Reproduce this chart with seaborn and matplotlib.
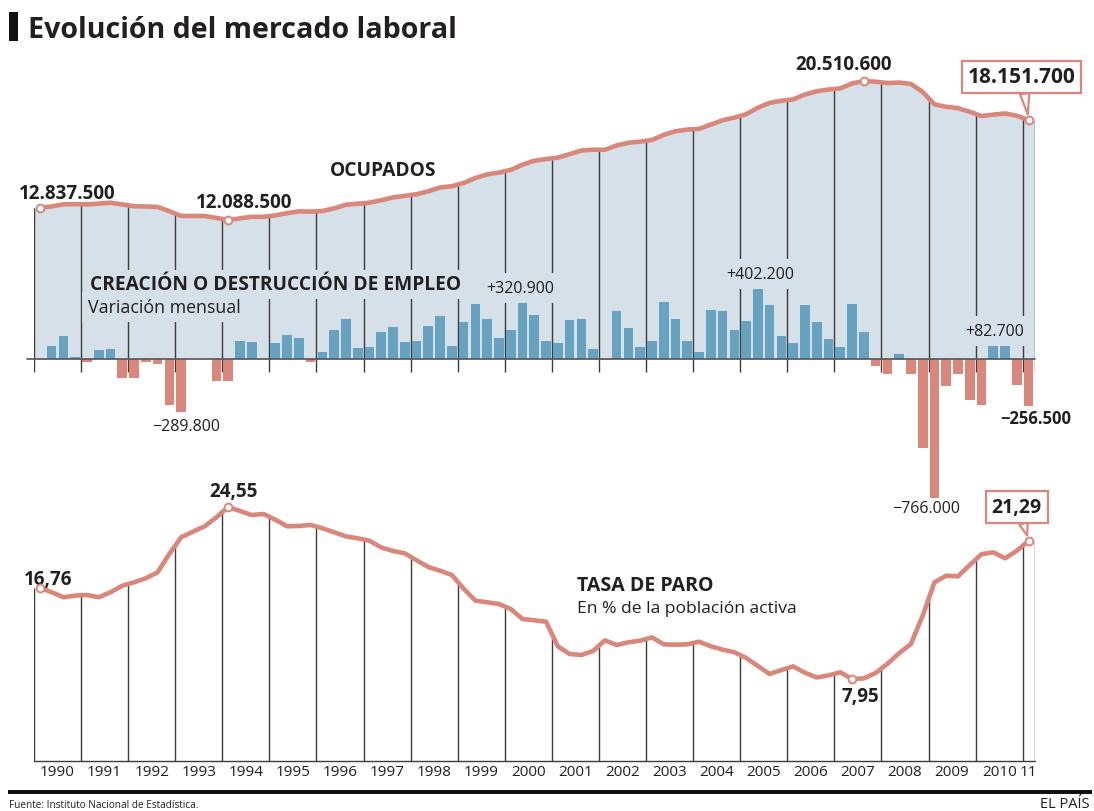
import numpy as np
import pandas as pd
import matplotlib
matplotlib.use("Agg")
import matplotlib.pyplot as plt
import seaborn as sns
from matplotlib.patches import Rectangle

# ---------------- DATA (thousands of people / %) ----------------
year_labels = [str(y) for y in range(1990, 2011)] + ["11"]
quarters = [f"{y}T{q}" for y in range(1990, 2011) for q in range(1, 5)] + ["2011T1"]

ocupados = [
    12837.5, 12910, 13039, 13052,
    13034, 13082, 13137, 13031,
    12925, 12907, 12879, 12624,
    12334, 12334, 12334, 12215,
    12088.5, 12188, 12283, 12283,
    12370, 12502, 12614, 12596,
    12635, 12795, 13014, 13074,
    13139, 13286, 13458, 13551,
    13651, 13830, 14062, 14134,
    14333, 14632, 14851, 14965,
    15125, 15441, 15680, 15780,
    15867, 16079, 16298, 16352,
    16347, 16606, 16773, 16838,
    16938, 17250, 17469, 17569,
    17608, 17874, 18133, 18293,
    18499, 18895, 19187, 19314,
    19401, 19693, 19892, 19998,
    20065, 20364, 20510.6, 20471,
    20391, 20417, 20337, 19852,
    19094, 18949, 18869, 18644,
    18392, 18474, 18546, 18407,
    18151.7,
]

# quarterly change, from 1990T2 to 2011T1
variacion = [
    73, 129, 13,
    -18, 48, 55, -106,
    -106, -18, -28, -255,
    -289.8, 0, 0, -119,
    -119, 101, 96, 0,
    88, 134, 114, -18,
    40, 162, 222, 61,
    66, 149, 174, 94,
    101, 182, 235, 73,
    202, 303, 222, 116,
    162, 320.9, 242, 101,
    88, 215, 222, 55,
    -5, 263, 169, 66,
    101, 316, 222, 101,
    40, 270, 263, 162,
    209, 402.2, 296, 129,
    88, 296, 202, 108,
    68, 303, 149, -40,
    -81, 26, -81, -490,
    -766.0, -147, -81, -228,
    -255, 82.7, 73, -141,
    -256.5,
]

tasa_paro = [
    16.76, 16.32, 15.84, 16.00,
    16.06, 15.84, 16.32, 16.96,
    17.28, 17.67, 18.25, 20.02,
    21.63, 22.17, 22.69, 23.56,
    24.55, 24.17, 23.78, 23.88,
    23.33, 22.69, 22.72, 22.82,
    22.50, 22.11, 21.72, 21.53,
    21.30, 20.64, 20.31, 20.08,
    19.41, 18.76, 18.40, 17.99,
    16.67, 15.51, 15.35, 15.19,
    14.71, 13.74, 13.62, 13.48,
    11.11, 10.36, 10.27, 10.65,
    11.68, 11.23, 11.49, 11.65,
    11.97, 11.30, 11.26, 11.30,
    11.55, 11.11, 10.78, 10.53,
    9.98, 9.20, 8.43, 8.82,
    9.17, 8.55, 8.10, 8.30,
    8.60, 7.95, 8.01, 8.53,
    9.41, 10.44, 11.33, 14.06,
    17.28, 17.92, 17.86, 18.95,
    20.00, 20.18, 19.60, 20.33,
    21.29,
]

# ---------------- STYLE ----------------
sns.set_style("white")
plt.rcParams["font.family"] = ["Open Sans", "DejaVu Sans"]
TXT = "#231f20"
FILL = "#d5e0e8"
SALMON = "#d9877a"
BLUE = "#67a2c1"
VLINE = "#3c3c3c"

W, H = 1094, 812
fig = plt.figure(figsize=(W / 100, H / 100), dpi=100)
fig.patch.set_facecolor("white")

def fy(py):
    return 1 - py / H

n = len(quarters)
q = np.arange(n)
X_LEFT, X_RIGHT = 34, 1034.5

def lims(top_px, bot_px, ref_val, ref_px, ppu):
    return (ref_val + (ref_px - bot_px) / ppu, ref_val + (ref_px - top_px) / ppu)

# ---------------- TOP PANEL ----------------
TOP_T, TOP_B = 50, 510
ax_o = fig.add_axes([X_LEFT / W, fy(TOP_B), (X_RIGHT - X_LEFT) / W, (TOP_B - TOP_T) / H])
ax_o.patch.set_visible(False)
ax_b = ax_o.twinx()
ax_b.patch.set_visible(False)

O_REF, O_PX, O_PPU = 12088.5, 221, 0.0165      # ocupados scale
B_PX, B_PPU = 360, 0.1815                      # bars scale
ax_o.set_ylim(*lims(TOP_T, TOP_B, O_REF, O_PX, O_PPU))
ax_b.set_ylim(*lims(TOP_T, TOP_B, 0, B_PX, B_PPU))
o_base = O_REF + (O_PX - B_PX) / O_PPU           # ocupados value at bar zero line
o_tick = O_REF + (O_PX - 373) / O_PPU            # year lines go a bit below

ocup = np.array(ocupados, dtype=float)
xe = np.concatenate([[-0.5], q, [n - 0.5]])
ye = np.concatenate([[ocup[0]], ocup, [ocup[-1]]])
ax_o.fill_between(xe, ye, o_base, color=FILL, lw=0, zorder=0.5)

year_x = np.append(np.arange(0, n, 4) - 0.5, n - 0.5)
ax_o.vlines(year_x, o_tick, np.interp(year_x, xe, ye), color=VLINE, lw=1.0, zorder=1)

sns.lineplot(x=q, y=ocup, ax=ax_o, color=SALMON, lw=3.3, zorder=3,
             solid_joinstyle="round", solid_capstyle="round")

sel_o = [0, 16, 70, n - 1]
ax_o.plot(q[sel_o], ocup[sel_o], "o", ms=5.6, mfc="white", mec=SALMON, mew=1.4, zorder=4)

df_var = pd.DataFrame({"q": q[1:], "var": variacion})
df_var["signo"] = np.where(df_var["var"] >= 0, "pos", "neg")
sns.barplot(data=df_var, x="q", y="var", hue="signo",
            palette={"pos": BLUE, "neg": SALMON}, native_scale=True, dodge=False,
            width=0.82, legend=False, errorbar=None, saturation=1, linewidth=0, ax=ax_b)
ax_b.axhline(0, xmin=-7 / (X_RIGHT - X_LEFT), xmax=1, color="#555555", lw=1.2,
             clip_on=False, zorder=5)

for a in (ax_o, ax_b):
    a.set_xlim(-0.5, n - 0.5)
    a.set_xticks([])
    a.set_yticks([])
    a.set_xlabel("")
    a.set_ylabel("")
    for s in a.spines.values():
        s.set_visible(False)

PT = 0.72  # points per pixel

def lab(ax, x, y, s, dx, dy, size, weight="normal", ha="center", va="baseline", **kw):
    ax.annotate(s, (x, y), xytext=(dx * PT, dy * PT), textcoords="offset points",
                ha=ha, va=va, fontsize=size, fontweight=weight, color=TXT, **kw)

lab(ax_o, 0, ocup[0], "12.837.500", 27.5, 10, 13.5, "bold")
lab(ax_o, 16, ocup[16], "12.088.500", 15.5, 13, 13.5, "bold")
lab(ax_o, 70, ocup[70], "20.510.600", -20, 12, 13.5, "bold")
ax_o.annotate("18.151.700", (n - 1, ocup[-1]), xytext=(-7 * PT, 43 * PT),
              textcoords="offset points", ha="center", va="center",
              fontsize=15, fontweight="bold", color=TXT,
              bbox=dict(boxstyle="square,pad=0.26", fc="white", ec=SALMON, lw=1.6),
              arrowprops=dict(arrowstyle="wedge,tail_width=0.45,shrink_factor=0.5",
                              fc="white", ec=SALMON, lw=1.6, shrinkA=0, shrinkB=4,
                              relpos=(0.52, 0)), zorder=6)

mask = dict(boxstyle="square,pad=0.45", fc=FILL, ec="none")
lab(ax_b, 41, 320.9, "+320.900", -2, 8.5, 11.5, bbox=mask, zorder=6)
lab(ax_b, 61, 402.2, "+402.200", 2, 8, 11.5, bbox=mask, zorder=6)
lab(ax_b, 81, 82.7, "+82.700", 1.5, 9, 11.5, bbox=mask, zorder=6)
lab(ax_b, 12, -289.8, "−289.800", 5.5, -18, 11.5)
lab(ax_b, 76, -766.0, "−766.000", -8, -14, 11.5)
lab(ax_b, n - 1, -256.5, "−256.500", 7, -17, 12, "bold")

fig.text(383.5 / W, fy(176), "OCUPADOS", ha="center", va="baseline",
         fontsize=13.9, fontweight="bold", color=TXT)
fig.text(90 / W, fy(290.5), "CREACIÓN O DESTRUCCIÓN DE EMPLEO", ha="left", va="baseline",
         fontsize=13.8, fontweight="bold", color=TXT,
         bbox=dict(boxstyle="square,pad=0.22", fc=FILL, ec="none"))
fig.text(88 / W, fy(313), "Variación mensual", ha="left", va="baseline",
         fontsize=12.8, color=TXT,
         bbox=dict(boxstyle="square,pad=0.35", fc=FILL, ec="none"))

# ---------------- BOTTOM PANEL ----------------
BOT_T, BOT_B = 470, 762
ax_t = fig.add_axes([X_LEFT / W, fy(BOT_B), (X_RIGHT - X_LEFT) / W, (BOT_B - BOT_T) / H])
ax_t.patch.set_visible(False)
ax_t.set_ylim(*lims(BOT_T, BOT_B, 7.95, 680, 10.36))
ax_t.set_xlim(-0.5, n - 0.5)

tasa = np.array(tasa_paro, dtype=float)
te = np.concatenate([[tasa[0]], tasa, [tasa[-1]]])
ax_t.vlines(year_x, ax_t.get_ylim()[0], np.interp(year_x, xe, te), color=VLINE, lw=1.0, zorder=1)
sns.lineplot(x=q, y=tasa, ax=ax_t, color=SALMON, lw=3.3, zorder=3,
             solid_joinstyle="round", solid_capstyle="round")
sel_t = [0, 16, 69, n - 1]
ax_t.plot(q[sel_t], tasa[sel_t], "o", ms=5.6, mfc="white", mec=SALMON, mew=1.4, zorder=4)

lab(ax_t, 0, tasa[0], "16,76", 8, 4, 13.5, "bold")
lab(ax_t, 16, tasa[16], "24,55", 5.5, 11, 13.5, "bold")
lab(ax_t, 69, tasa[69], "7,95", 8, -22.5, 13.5, "bold")
ax_t.annotate("21,29", (n - 1, tasa[-1]), xytext=(-12 * PT, 34 * PT),
              textcoords="offset points", ha="center", va="center",
              fontsize=14, fontweight="bold", color=TXT,
              bbox=dict(boxstyle="square,pad=0.3", fc="white", ec=SALMON, lw=1.6),
              arrowprops=dict(arrowstyle="wedge,tail_width=0.45,shrink_factor=0.5",
                              fc="white", ec=SALMON, lw=1.6, shrinkA=0, shrinkB=4,
                              relpos=(0.6, 0)), zorder=6)

fig.text(577 / W, fy(591), "TASA DE PARO", ha="left", va="baseline",
         fontsize=14, fontweight="bold", color=TXT)
fig.text(577 / W, fy(613), "En % de la población activa", ha="left", va="baseline",
         fontsize=12.6, color=TXT)

ax_t.set_yticks([])
ax_t.set_xlabel("")
ax_t.set_ylabel("")
for k, s in ax_t.spines.items():
    s.set_visible(k == "bottom")
ax_t.spines["bottom"].set_color(VLINE)
ax_t.spines["bottom"].set_linewidth(1.0)
ax_t.set_xticks(np.append(np.arange(0, n - 1, 4) + 1.5, n - 1))
ax_t.set_xticklabels(year_labels, fontsize=11, color=TXT)
ax_t.tick_params(axis="x", length=0, pad=2.5)

# ---------------- TITLE / FOOTER ----------------
fig.patches.append(Rectangle((9 / W, fy(42)), 9 / W, 29 / H, transform=fig.transFigure,
                             fc="#111111", ec="none"))
fig.text(28 / W, fy(38), "Evolución del mercado laboral", ha="left", va="baseline",
         fontsize=20.6, fontweight="bold", color=TXT)
fig.patches.append(Rectangle((8 / W, fy(795)), 1084 / W, 4.5 / H, transform=fig.transFigure,
                             fc="#111111", ec="none"))
fig.text(9 / W, fy(808), "Fuente: Instituto Nacional de Estadística.", ha="left",
         va="baseline", fontsize=7.2, color=TXT)
fig.text(1090 / W, fy(808), "EL PAÍS", ha="right", va="baseline", fontsize=10.5, color=TXT)

fig.savefig("out.png", dpi=100)
